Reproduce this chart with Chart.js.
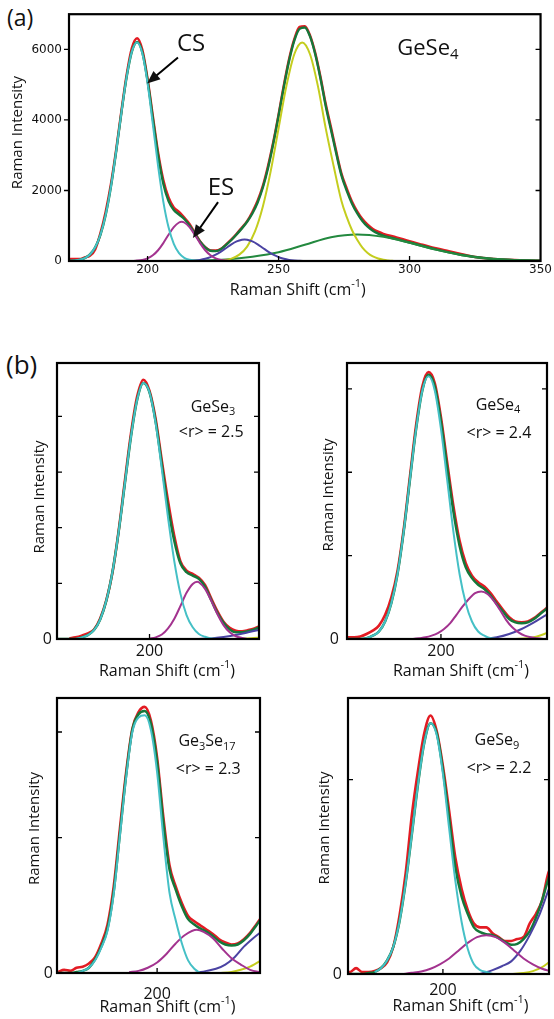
<!DOCTYPE html>
<html>
<head>
<meta charset="utf-8">
<script src="https://cdn.jsdelivr.net/npm/chart.js@4.4.1/dist/chart.umd.min.js"></script>
<style>
  body { margin: 0; background: #fff; width: 554px; height: 1019px; position: relative; overflow: hidden; }
  canvas { position: absolute; }
  .tag { position: absolute; font-family: "Open Sans", sans-serif; line-height: 1; color: #111; }
</style>
</head>
<body>
<div class="tag" style="left:7px; top:6px; font-size:23px">(a)</div>
<div class="tag" style="left:6px; top:351px; font-size:26px">(b)</div>
<canvas id="pa" width="554" height="300" style="left:0; top:0"></canvas>
<canvas id="pb1" width="277" height="340" style="left:0; top:340px"></canvas>
<canvas id="pb2" width="277" height="340" style="left:277px; top:340px"></canvas>
<canvas id="pb3" width="277" height="339" style="left:0; top:680px"></canvas>
<canvas id="pb4" width="277" height="339" style="left:277px; top:680px"></canvas>
<script>
// ---- (a) GeSe4, full range ----
const shiftA = [170,172,174,176,178,180,182,184,186,188,190,192,194,196,198,200,202,204,206,208,
  210,212,214,216,218,220,222,224,226,228,230,232,234,236,238,240,242,244,246,248,
  250,252,254,256,258,260,262,264,266,268,270,272,274,276,278,280,282,284,286,288,290,
  295,300,305,310,315,320,325,330,335,340,345,350];
const measA = [50,60,55,100,150,330,790,1400,2180,3150,4250,5280,6040,6320,5990,5160,4110,3080,2300,1800,
  1520,1390,1230,1050,800,560,390,300,295,345,470,610,770,950,1130,1390,1710,2130,2700,3380,
  4150,4980,5720,6290,6640,6660,6400,5900,5220,4450,3790,3110,2480,2060,1690,1410,1190,1030,910,830,770,
  670,560,460,360,275,190,112,71,44,25,14,7];
const fitA = [4,12,33,82,186,391,744,1308,2102,3106,4204,5214,5940,6211,5917,5112,4042,3002,2194,1702,
  1449,1318,1192,1010,783,553,388,292,281,333,460,596,755,925,1115,1348,1659,2084,2647,3339,
  4122,4935,5676,6252,6584,6622,6370,5864,5178,4399,3724,3055,2428,1995,1633,1355,1132,972,856,777,721,
  620,525,425,330,245,170,112,71,44,25,14,7];
const csShiftA = [170,172,174,176,178,180,182,184,186,188,190,192,194,196,198,200,202,204,206,208,210,212,214,216,218,220];
const csA = [4,12,33,82,186,391,744,1308,2102,3106,4204,5214,5940,6200,5886,5037,3881,2697,1686,954,485,222,91,34,12,0];
const esShiftA = [194,196,198,200,202,204,206,208,210,212,213,214,216,218,220,222,224,226,228,230,232];
const esA = [0,11,31,75,161,305,508,745,961,1092,1110,1092,961,745,508,305,161,75,31,11,0];
const violetShiftA = [214,216,218,220,222,224,226,228,230,232,234,236,237,238,240,242,244,246,248,250,252,254,256,258,260];
const violetA = [0,7,15,32,62,109,178,267,370,473,556,604,610,604,556,473,370,267,178,109,62,32,15,7,0];
const chainShiftA = [226,229,232,235,238,241,244,247,250,253,256,259,262,265,268,271,274,276,278,280,282,284,286,288,290,292,294];
const chainA = [0,25,68,180,409,837,1544,2548,3763,4966,5865,6200,5865,4966,3763,2700,1700,1250,880,600,380,230,130,70,35,15,0];
const tailShiftA = [200,210,220,230,240,250,260,270,280,290,300,310,320,330,340,350];
const tailA = [0,3,13,44,123,250,460,674,755,686,518,322,166,71,25,7];

// ---- (b) four glasses, low-shift window ----
const shiftB = [168,170,172,174,176,178,180,182,184,186,188,190,192,194,196,198,200,202,204,206,
  208,210,212,214,216,218,220,222,224,226,228,230,232,234,236];

// GeSe3
const measB1 = [null,null,null,0.01,0.03,0.06,0.1,0.17,0.37,0.7,1.2,1.95,2.84,3.7,4.36,4.66,4.46,3.95,3.2,2.48,
  1.86,1.4,1.23,1.17,1.1,0.97,0.73,0.5,0.31,0.2,0.15,0.14,0.16,0.19,0.24];
const fitB1 = [0,0,0,0,0,0.03,0.07,0.16,0.35,0.69,1.21,1.93,2.79,3.64,4.3,4.6,4.43,3.9,3.13,2.37,
  1.77,1.36,1.2,1.14,1.08,0.94,0.7,0.47,0.29,0.17,0.12,0.12,0.14,0.17,0.22];
const csShiftB1 = [176,178,180,182,184,186,188,190,192,194,196,198,200,202,204,206,208,210,212,214,216,218,220,222];
const csB1 = [0,0.03,0.07,0.16,0.35,0.69,1.21,1.93,2.79,3.64,4.3,4.6,4.43,3.87,3.05,2.18,1.41,0.82,0.43,0.21,0.09,0.04,0.01,0];
const esShiftB1 = [200,202,204,206,208,210,212,214,215.4,216,218,220,222,224,226,228,230,232];
const esB1 = [0.01,0.03,0.08,0.19,0.36,0.59,0.83,0.99,1.03,1.02,0.9,0.69,0.45,0.25,0.12,0.05,0.02,0];
const violetShiftB1 = [216,220,224,228,232,236];
const violetB1 = [0,0.01,0.035,0.07,0.12,0.17];
const chainShiftB1 = [226,230,233,236];
const chainB1 = [0,0.005,0.012,0.025];

// GeSe4
const measB2 = [0.02,0.02,0.02,0.03,0.06,0.1,0.16,0.29,0.5,0.82,1.32,1.95,2.57,3.03,3.2,3.07,2.66,2.12,1.6,1.18,
  0.91,0.76,0.68,0.63,0.55,0.45,0.35,0.26,0.21,0.2,0.21,0.25,0.31,0.37,0.44];
const fitB2 = [0,0,0,0,0.01,0.04,0.09,0.21,0.43,0.78,1.29,1.91,2.52,2.98,3.17,3.03,2.61,2.06,1.53,1.12,
  0.86,0.73,0.65,0.6,0.52,0.42,0.33,0.24,0.2,0.19,0.2,0.24,0.3,0.36,0.43];
const csShiftB2 = [174,176,178,180,182,184,186,188,190,192,194,196,198,200,202,204,206,208,210,212,214,216,218];
const csB2 = [0,0.01,0.04,0.09,0.21,0.43,0.78,1.29,1.91,2.52,2.98,3.15,2.98,2.52,1.91,1.29,0.78,0.43,0.21,0.09,0.04,0.01,0];
const esShiftB2 = [191,193,195,197,199,201,203,205,207,209,211,213,215,217,219,221,223,225,227,229,231,233];
const esB2 = [0,0.01,0.02,0.04,0.07,0.12,0.19,0.29,0.39,0.48,0.55,0.57,0.54,0.46,0.35,0.23,0.14,0.08,0.04,0.02,0.01,0];
const violetShiftB2 = [214,218,222,226,230,234,236];
const violetB2 = [0,0.02,0.06,0.12,0.2,0.29,0.33];
const chainShiftB2 = [224,228,231,234,236];
const chainB2 = [0,0.01,0.03,0.07,0.1];

// Ge3Se17
const measB3 = [0.01,0.03,0.02,0.05,0.06,0.09,0.15,0.28,0.46,0.82,1.37,1.9,2.31,2.47,2.52,2.39,2.04,1.48,1.02,0.82,
  0.66,0.54,0.49,0.45,0.41,0.37,0.32,0.29,0.27,0.28,0.32,0.38,0.46,0.54,0.61];
const fitB3 = [0,0,0,0.01,0.02,0.05,0.13,0.25,0.42,0.77,1.32,1.87,2.3,2.45,2.48,2.36,2.0,1.43,0.98,0.79,
  0.63,0.51,0.46,0.42,0.39,0.35,0.3,0.27,0.26,0.27,0.31,0.37,0.45,0.53,0.6];
const csShiftB3 = [174,176,178,180,182,184,186,188,190,192,194,196,198,200,202,204,206,208,210,212,214];
const csB3 = [0,0.02,0.05,0.12,0.24,0.4,0.75,1.3,1.85,2.28,2.42,2.44,2.3,1.9,1.29,0.76,0.5,0.28,0.12,0.04,0];
const esShiftB3 = [191,194,197,200,203,206,209,212.8,215,218,221,224,227,230,233,236];
const esB3 = [0.01,0.02,0.05,0.1,0.18,0.28,0.36,0.41,0.39,0.33,0.23,0.14,0.08,0.03,0.01,0];
const violetShiftB3 = [212,216,219,222,225,228,231,234];
const violetB3 = [0,0.02,0.04,0.08,0.15,0.25,0.33,0.4];
const chainShiftB3 = [220,224,227,230,233,234];
const chainB3 = [0,0.01,0.03,0.06,0.11,0.13];

// GeSe9
const measB4 = [0.01,0.01,0.03,0.01,0.01,0.015,0.03,0.06,0.14,0.3,0.52,0.82,1.05,1.24,1.33,1.25,1.07,0.84,0.6,0.44,
  0.33,0.26,0.24,0.24,0.21,0.19,0.17,0.17,0.18,0.19,0.26,0.31,0.38,0.52,0.58];
const fitB4 = [0,0,0,0,0.005,0.01,0.03,0.07,0.14,0.27,0.47,0.72,0.98,1.19,1.29,1.24,1.05,0.8,0.55,0.4,
  0.31,0.24,0.215,0.205,0.2,0.185,0.165,0.15,0.155,0.18,0.22,0.29,0.38,0.49,0.58];
const csShiftB4 = [178,180,182,184,186,188,190,192,194,196,198,200,202,204,206,208,210,212,214,216];
const csB4 = [0.01,0.03,0.07,0.14,0.27,0.47,0.72,0.98,1.19,1.29,1.23,1.03,0.75,0.48,0.27,0.13,0.05,0.02,0.01,0];
const esShiftB4 = [187,190,193,196,199,202,205,208,211,214,217,220,223,226,229,232,235];
const esB4 = [0,0.006,0.013,0.027,0.05,0.08,0.12,0.16,0.19,0.2,0.19,0.16,0.12,0.08,0.05,0.027,0.013];
const violetShiftB4 = [212,216,219,222,225,228,231,234,235];
const violetB4 = [0,0.02,0.04,0.065,0.12,0.2,0.3,0.43,0.47];
const chainShiftB4 = [222,226,229,232,235];
const chainB4 = [0,0.005,0.015,0.035,0.07];

// ---- look ----
const FONT = '"Open Sans", sans-serif';
const RED = '#e31b23', FIT = '#15773a', CYAN = '#45c0c6', MAG = '#a3338f',
      VIO = '#4b43a3', YEL = '#c4cd1e', TAIL = '#23893f';

const decoSettings = {};

function rich(ctx, parts, cx, cy, size) {
  const small = Math.round(size * 0.68);
  const fontOf = k => `${k ? small : size}px ${FONT}`;
  let w = 0;
  parts.forEach(([t, k]) => { ctx.font = fontOf(k); w += ctx.measureText(t).width; });
  let x = cx - w / 2;
  ctx.textAlign = 'left';
  ctx.textBaseline = 'middle';
  parts.forEach(([t, k]) => {
    ctx.font = fontOf(k);
    const dy = k === 1 ? size * 0.3 : k === 2 ? -size * 0.36 : 0;
    ctx.fillText(t, x, cy + dy);
    x += ctx.measureText(t).width;
  });
}

function arrow(ctx, x1, y1, x2, y2) {
  const a = Math.atan2(y2 - y1, x2 - x1), L = 13, W = 5.5;
  const c = Math.cos(a), s = Math.sin(a);
  ctx.lineWidth = 2;
  ctx.beginPath();
  ctx.moveTo(x1, y1);
  ctx.lineTo(x2 - L * 0.8 * c, y2 - L * 0.8 * s);
  ctx.stroke();
  ctx.beginPath();
  ctx.moveTo(x2, y2);
  ctx.lineTo(x2 - L * c + W * s, y2 - L * s - W * c);
  ctx.lineTo(x2 - L * c - W * s, y2 - L * s + W * c);
  ctx.closePath();
  ctx.fill();
}

const deco = {
  id: 'deco',
  afterDraw(chart) {
    const g = decoSettings[chart.canvas.id];
    const { ctx, chartArea: a, scales: { x, y } } = chart;
    ctx.save();
    ctx.strokeStyle = '#000';
    ctx.fillStyle = '#111';
    // tick marks
    ctx.lineWidth = 1.3;
    ctx.beginPath();
    g.yMarks.forEach(v => {
      const py = y.getPixelForValue(v);
      if (g.leftOut) { ctx.moveTo(a.left - 5, py); ctx.lineTo(a.left, py); }
      else { ctx.moveTo(a.left, py); ctx.lineTo(a.left + 5, py); }
      ctx.moveTo(a.right, py); ctx.lineTo(a.right - 5, py);
    });
    g.xMarks.forEach(v => {
      const px = x.getPixelForValue(v);
      ctx.moveTo(px, a.bottom); ctx.lineTo(px, a.bottom - 5);
    });
    ctx.stroke();
    // frame
    ctx.lineWidth = 2.2;
    ctx.strokeRect(a.left, a.top, a.right - a.left, a.bottom - a.top);
    // axis titles
    rich(ctx, [['Raman Shift (cm', 0], ['-1', 2], [')', 0]], (a.left + a.right) / 2 + g.xtDx, g.xtY, 16);
    ctx.save();
    ctx.translate(g.ytX, (a.top + a.bottom) / 2 + g.ytDy);
    ctx.rotate(-Math.PI / 2);
    ctx.font = `15px ${FONT}`;
    ctx.textAlign = 'center';
    ctx.textBaseline = 'middle';
    ctx.fillText('Raman Intensity', 0, 0);
    ctx.restore();
    // notes
    g.notes.forEach(n => {
      if (n.arrow) {
        const [x1, y1, x2, y2] = n.arrow;
        arrow(ctx, x.getPixelForValue(x1), y.getPixelForValue(y1), x.getPixelForValue(x2), y.getPixelForValue(y2));
      } else {
        rich(ctx, n.parts, x.getPixelForValue(n.x), y.getPixelForValue(n.y), n.size);
      }
    });
    ctx.restore();
  }
};

function line(xs, ys, color, width) {
  return {
    data: xs.map((v, i) => ({ x: v, y: ys[i] })),
    borderColor: color, borderWidth: width, pointRadius: 0,
    cubicInterpolationMode: 'monotone', fill: false
  };
}

function buildPanel(id, g, datasets) {
  decoSettings[id] = g;
  new Chart(document.getElementById(id), {
    type: 'line',
    data: { datasets },
    options: {
      responsive: false, animation: false, devicePixelRatio: 1, events: [],
      layout: { padding: { left: 0, top: g.top, right: g.right, bottom: 0 } },
      plugins: { legend: { display: false }, tooltip: { enabled: false } },
      scales: {
        x: {
          type: 'linear', min: g.xMin, max: g.xMax,
          grid: { display: false, drawTicks: false }, border: { display: false },
          afterBuildTicks: ax => { ax.ticks = g.xLabels.map(v => ({ value: v })); },
          afterFit: ax => { ax.height = g.xH; },
          ticks: { autoSkip: false, maxRotation: 0, padding: g.xPad, color: '#111', font: g.tickFont,
                   callback: v => String(v) }
        },
        y: {
          type: 'linear', min: 0, max: g.yMax,
          grid: { display: false, drawTicks: false }, border: { display: false },
          afterBuildTicks: ax => { ax.ticks = g.yLabels.map(v => ({ value: v })); },
          afterFit: ax => { ax.width = g.yW; },
          ticks: { autoSkip: false, padding: g.yPad, color: '#111', font: g.tickFont,
                   callback: v => String(v) }
        }
      }
    },
    plugins: [deco]
  });
}

const bFont = { family: FONT, size: 16 };

buildPanel('pa', {
  top: 14, right: 13, yW: 69, xH: 39, xPad: 2, yPad: 7,
  xMin: 170, xMax: 350, yMax: 7000,
  xLabels: [200, 250, 300, 350], yLabels: [0, 2000, 4000, 6000],
  xMarks: [200, 250, 300], yMarks: [2000, 4000, 6000], leftOut: true,
  tickFont: { family: '"DejaVu Sans", sans-serif', size: 12 },
  xtY: 290, xtDx: -7, ytX: 18, ytDy: -5,
  notes: [
    { x: 216.6, y: 6140, parts: [['CS', 0]], size: 24 },
    { arrow: [211.6, 5771, 199.8, 5035] },
    { x: 228, y: 2065, parts: [['ES', 0]], size: 24 },
    { arrow: [226.9, 1669, 217.3, 651] },
    { x: 307, y: 6025, parts: [['GeSe', 0], ['4', 1]], size: 22 }
  ]
}, [
  line(csShiftA, csA, CYAN, 2),
  line(esShiftA, esA, MAG, 2),
  line(violetShiftA, violetA, VIO, 2),
  line(chainShiftA, chainA, YEL, 2),
  line(tailShiftA, tailA, TAIL, 2),
  line(shiftA, fitA, FIT, 2.4),
  line(shiftA, measA, RED, 2.5)
]);

function bSet(meas, fit, cs, csx, es, esx, vi, vix, ch, chx) {
  return [
    line(csx, cs, CYAN, 2),
    line(esx, es, MAG, 2),
    line(vix, vi, VIO, 2),
    line(chx, ch, YEL, 2),
    line(shiftB, fit, FIT, 2.5),
    line(shiftB, meas, RED, 2.6)
  ];
}

buildPanel('pb1', {
  top: 23, right: 18, yW: 57, xH: 41, xPad: 3, yPad: 5,
  xMin: 170, xMax: 235.5, yMax: 4.96,
  xLabels: [200], yLabels: [0], xMarks: [200], yMarks: [1, 2, 3, 4], leftOut: false,
  tickFont: bFont, xtY: 331, xtDx: 9, ytX: 40, ytDy: -4,
  notes: [
    { x: 220.6, y: 4.17, parts: [['GeSe', 0], ['3', 1]], size: 16 },
    { x: 220, y: 3.72, parts: [['<r> = 2.5', 0]], size: 16 }
  ]
}, bSet(measB1, fitB1, csB1, csShiftB1, esB1, esShiftB1, violetB1, violetShiftB1, chainB1, chainShiftB1));

buildPanel('pb2', {
  top: 23, right: 7, yW: 70, xH: 41, xPad: 3, yPad: 8,
  xMin: 169.7, xMax: 234.2, yMax: 3.31,
  xLabels: [200], yLabels: [0], xMarks: [200], yMarks: [1, 2, 3], leftOut: false,
  tickFont: bFont, xtY: 331, xtDx: 14, ytX: 52, ytDy: -6,
  notes: [
    { x: 218.4, y: 2.8, parts: [['GeSe', 0], ['4', 1]], size: 16 },
    { x: 218.7, y: 2.46, parts: [['<r> = 2.4', 0]], size: 16 }
  ]
}, bSet(measB2, fitB2, csB2, csShiftB2, esB2, esShiftB2, violetB2, violetShiftB2, chainB2, chainShiftB2));

buildPanel('pb3', {
  top: 18, right: 17, yW: 57, xH: 46, xPad: 12, yPad: 4,
  xMin: 167.7, xMax: 233.2, yMax: 2.604,
  xLabels: [200], yLabels: [0], xMarks: [200], yMarks: [1.282, 2.282], leftOut: false,
  tickFont: bFont, xtY: 327, xtDx: 9, ytX: 35, ytDy: -7,
  notes: [
    { x: 216.1, y: 2.19, parts: [['Ge', 0], ['3', 1], ['Se', 0], ['17', 1]], size: 16 },
    { x: 216.5, y: 1.93, parts: [['<r> = 2.3', 0]], size: 16 }
  ]
}, bSet(measB3, fitB3, csB3, csShiftB3, esB3, esShiftB3, violetB3, violetShiftB3, chainB3, chainShiftB3));

buildPanel('pb4', {
  top: 18, right: 5, yW: 71, xH: 45, xPad: 7, yPad: 6,
  xMin: 169.4, xMax: 234.2, yMax: 1.42,
  xLabels: [200], yLabels: [0], xMarks: [200], yMarks: [1], leftOut: false,
  tickFont: bFont, xtY: 326, xtDx: 12, ytX: 48, ytDy: -8,
  notes: [
    { x: 217.4, y: 1.2, parts: [['GeSe', 0], ['9', 1]], size: 16 },
    { x: 218.1, y: 1.06, parts: [['<r> = 2.2', 0]], size: 16 }
  ]
}, bSet(measB4, fitB4, csB4, csShiftB4, esB4, esShiftB4, violetB4, violetShiftB4, chainB4, chainShiftB4));
</script>
</body>
</html>
